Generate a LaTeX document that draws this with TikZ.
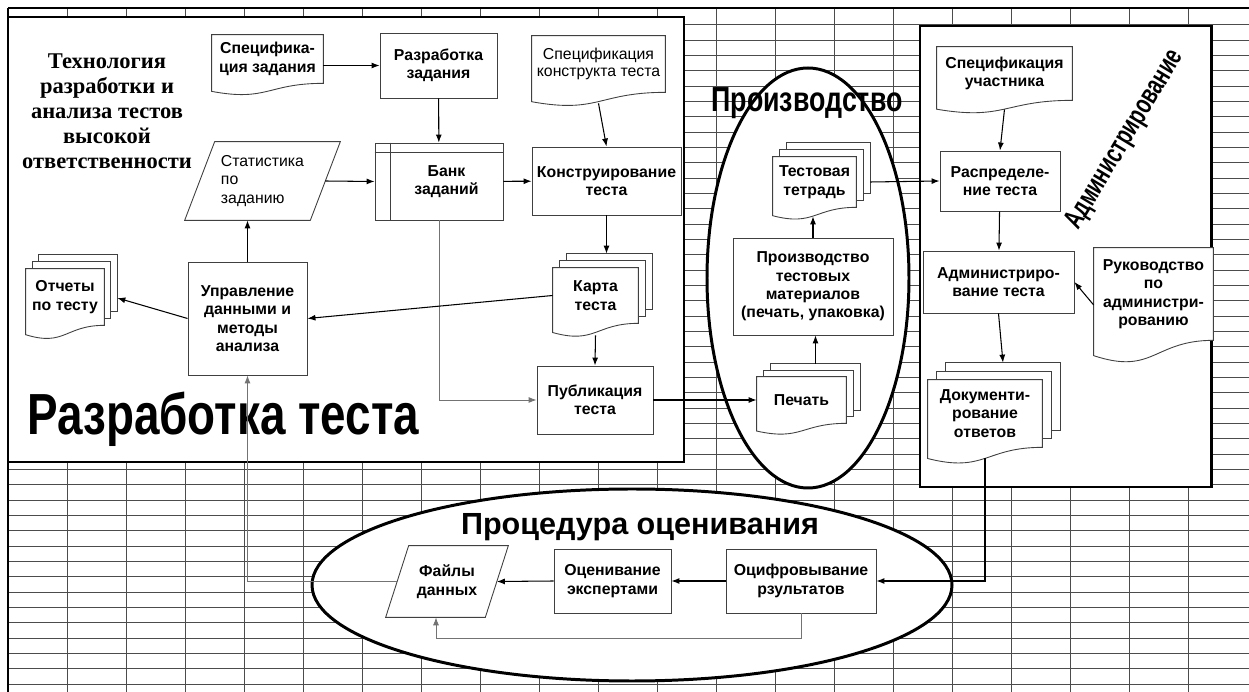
\documentclass[tikz,border=0pt]{standalone}
\usepackage{fontspec}
\setmainfont{Liberation Sans}
\newfontfamily\titlefont{Liberation Serif}
\usetikzlibrary{calc, arrows.meta}

\pgfdeclarelayer{grid}
\pgfdeclarelayer{frame}
\pgfdeclarelayer{shapes}
\pgfsetlayers{grid,frame,shapes,main}

% document outline with wavy bottom
\newcommand{\docout}[1]{%
  \draw[boxline,fill=white] (#1.north west) -- (#1.north east) -- (#1.south east)
    .. controls (#1.south) and ($(#1.north)!1.38!(#1.south)$) .. ($(#1.north west)!1.165!(#1.south west)$) -- cycle;}
% stack of documents
\newcommand{\multidoc}[3]{%
  \draw[boxline,fill=white] ($(#1.north west)+(2*#2,-2*#3)$) rectangle ($(#1.south east)+(2*#2,-2*#3)$);
  \draw[boxline,fill=white] ($(#1.north west)+(#2,-#3)$) rectangle ($(#1.south east)+(#2,-#3)$);
  \docout{#1}
  \coordinate (#1-top) at ($(#1.north)+(2*#2,-2*#3)$);}
% data (parallelogram)
\newcommand{\dataout}[2]{%
  \draw[boxline,fill=white] ($(#1.north west)+(#2,0)$) -- (#1.north east) -- ($(#1.south east)+(-#2,0)$) -- (#1.south west) -- cycle;}

\begin{document}
\begin{tikzpicture}[x=0.02cm, y=-0.02cm,
    box/.style={draw=black!75, line width=0.5pt, fill=white, align=center, inner sep=1pt, font=\bfseries\fontsize{9}{10.5}\selectfont},
    doc/.style={align=center, inner sep=1pt, font=\bfseries\fontsize{9}{10.5}\selectfont},
    boxline/.style={draw=black!75, line width=0.5pt},
    frame/.style={draw=black, line width=1.7pt, fill=white},
    gridline/.style={draw=black!70, line width=0.5pt},
    arr/.style={-{Latex[length=1.6mm,width=1.2mm]}, line width=0.6pt},
    garr/.style={arr, draw=black!55, line width=0.5pt},
    big/.style={font=\bfseries\fontsize{#1}{#1}\selectfont, inner sep=0pt}]
    \useasboundingbox (0,0) rectangle (1249,692);

    % sheet grid
    \begin{pgfonlayer}{grid}
      \foreach \i in {1,...,20}
        \draw[gridline] (8+59*\i,8) -- (8+59*\i,692);
      \foreach \j in {1,...,44}
        \draw[gridline] (8,9.5+15.33*\j) -- (1249,9.5+15.33*\j);
      \draw[line width=1.7pt] (8,8) -- (1249,8);
      \draw[line width=1.7pt] (8,8) -- (8,692);
    \end{pgfonlayer}

    % areas
    \begin{pgfonlayer}{frame}
      \draw[frame] (8,17) rectangle (684,462);
      \draw[frame] (920,26) rectangle (1211,487);
      \draw[frame] (808,278) ellipse [x radius=101, y radius=210];
      \draw[frame] (632,585) ellipse [x radius=320, y radius=96];
    \end{pgfonlayer}

    % Разработка теста
    \node[font=\titlefont\bfseries\fontsize{12.8}{14.2}\selectfont, align=center] (title) at (107,111) {Технология\\разработки и\\анализа тестов\\высокой\\ответственности};
    \node[doc, minimum width=2.22cm, minimum height=0.96cm] (spz) at (267.5,59) {Специфика-\\ция задания};
    \node[box, minimum width=2.34cm, minimum height=1.30cm] (razz) at (438.5,65.5) {Разработка\\задания};
    \node[doc, font=\fontsize{9}{10}\selectfont, minimum width=2.66cm, minimum height=1.12cm] (spk) at (598.5,64) {Спецификация\\конструкта теста};
    \node[doc, font=\fontsize{9}{10.5}\selectfont, align=left, minimum width=3.1cm, minimum height=1.56cm] (stat) at (262.5,181) {Статистика\\по\\заданию};
    \node[box, minimum width=2.56cm, minimum height=1.54cm] (bank) at (439,181.5) {\hspace*{0.3cm}Банк\\\hspace*{0.3cm}заданий};
    \node[box, minimum width=2.98cm, minimum height=1.36cm] (konstr) at (606.5,181) {Конструирование\\теста};
    \node[doc, minimum width=1.7cm, minimum height=1.1cm] (karta) at (595.5,295.5) {Карта\\теста};
    \node[box, minimum width=2.32cm, minimum height=1.36cm] (publ) at (595,400) {Публикация\\теста};
    \node[box, minimum width=2.38cm, minimum height=2.26cm] (uprav) at (247.5,318.5) {Управление\\данными и\\методы\\анализа};
    \node[doc, minimum width=1.56cm, minimum height=1.12cm] (otch) at (65,297) {Отчеты\\по тесту};
    \node[big=33, anchor=base west] (razrT) at (27,435) {\scalebox{0.79}[1]{Разработка теста}};
    \draw[boxline] ($(bank.north west)+(0,10)$) -- ($(bank.north east)+(0,10)$);
    \draw[boxline] ($(bank.north west)+(16,0)$) -- ($(bank.south west)+(16,0)$);

    % Производство
    \node[big=19.8, anchor=base] (prodT) at (807,112) {\scalebox{0.77}[1]{Производство}};
    \node[doc, minimum width=1.66cm, minimum height=1.0cm] (test) at (814.5,182) {Тестовая\\тетрадь};
    \node[box, minimum width=3.2cm, minimum height=1.94cm] (proizv) at (813,286.5) {Производство\\тестовых\\материалов\\(печать, упаковка)};
    \node[doc, minimum width=1.78cm, minimum height=0.92cm] (pech) at (801.5,400) {Печать};

    % Администрирование
    \node[big=16, rotate=59] (admT) at (1125,140) {\scalebox{0.7}[1]{Администрирование}};
    \node[doc, minimum width=2.7cm, minimum height=1.06cm] (spu) at (1004.5,73.5) {Спецификация\\участника};
    \node[box, minimum width=2.4cm, minimum height=1.2cm] (raspr) at (1000,181) {Распределе-\\ние теста};
    \node[box, minimum width=3.02cm, minimum height=1.24cm] (admin) at (998.5,282) {Администриро-\\вание теста};
    \node[doc, minimum width=2.38cm, minimum height=1.84cm] (ruk) at (1153.5,294) {Руководство\\по\\администри-\\рованию};
    \node[doc, minimum width=2.28cm, minimum height=1.34cm] (dok) at (985,413.5) {Документи-\\рование\\ответов};

    % Процедура оценивания
    \node[big=17.4, anchor=base] (procT) at (640,535) {Процедура оценивания};
    \node[doc, minimum width=2.44cm, minimum height=1.42cm] (faily) at (447,581.5) {Файлы\\данных};
    \node[box, minimum width=2.34cm, minimum height=1.28cm] (ocen) at (612.5,581) {Оценивание\\экспертами};
    \node[box, minimum width=3.0cm, minimum height=1.28cm] (ocif) at (801,581) {Оцифровывание\\рзультатов};

    % outlines of documents and data
    \begin{pgfonlayer}{shapes}
      \docout{spz}
      \docout{spk}
      \docout{spu}
      \docout{ruk}
      \multidoc{karta}{7}{7}
      \multidoc{otch}{6.5}{7}
      \multidoc{test}{7}{7}
      \multidoc{pech}{7}{6.5}
      \multidoc{dok}{9}{8.5}
      \dataout{stat}{30}
      \dataout{faily}{23}
    \end{pgfonlayer}
    \coordinate (testbot) at ($(test.south)+(0,9)$);

    % arrows in Разработка теста
    \draw[arr] (razz.west -| spz.east) -- (razz.west);
    \draw[arr] (razz) -- (bank);
    \draw[arr] ($(spk.south)+(0,11)$) -- (konstr.north);
    \draw[arr] ($(stat.east)+(-15,0)$) -- (bank.west);
    \draw[arr] (bank) -- (konstr);
    \draw[arr] (konstr.south) -- (konstr.south |- karta-top);
    \draw[arr] ($(karta.south)+(0,12)$) -- (publ.north);
    \draw[garr] (bank.south) |- (publ.west);
    \draw[arr] (karta.west) -- (uprav.east);
    \draw[arr] (uprav.north) -- (uprav.north |- stat.south);
    \draw[arr] (uprav.west) -- ($(otch.east)+(13,1)$);
    % arrows to Производство and Администрирование
    \draw[arr] (publ.east) -- (pech.west);
    \draw[arr] (pech-top) -- (pech-top |- proizv.south);
    \draw[arr] (proizv.north) -- (proizv.north |- testbot);
    \draw[arr] ($(test.east)+(14,0)$) -- (raspr.west);
    \draw[arr] ($(spu.south)+(0,9)$) -- (raspr.north);
    \draw[arr] (raspr) -- (admin);
    \draw[arr] ($(ruk.west)+(0,11)$) -- (admin.east);
    \draw[arr] (admin.south) -- (dok-top);
    \draw[arr] ($(dok.south)+(0,11)$) |- (ocif.east);
    % arrows in Процедура оценивания
    \draw[arr] (ocif) -- (ocen);
    \draw[arr] (ocen.west) -- ($(faily.east)+(-11.5,0)$);
    \draw[garr] (ocif.south) -- ++(0,25) -| ($(faily.south)+(-11,0)$);
    \draw[garr] ($(faily.west)+(11.5,0)$) -| (uprav.south);
\end{tikzpicture}
\end{document}
